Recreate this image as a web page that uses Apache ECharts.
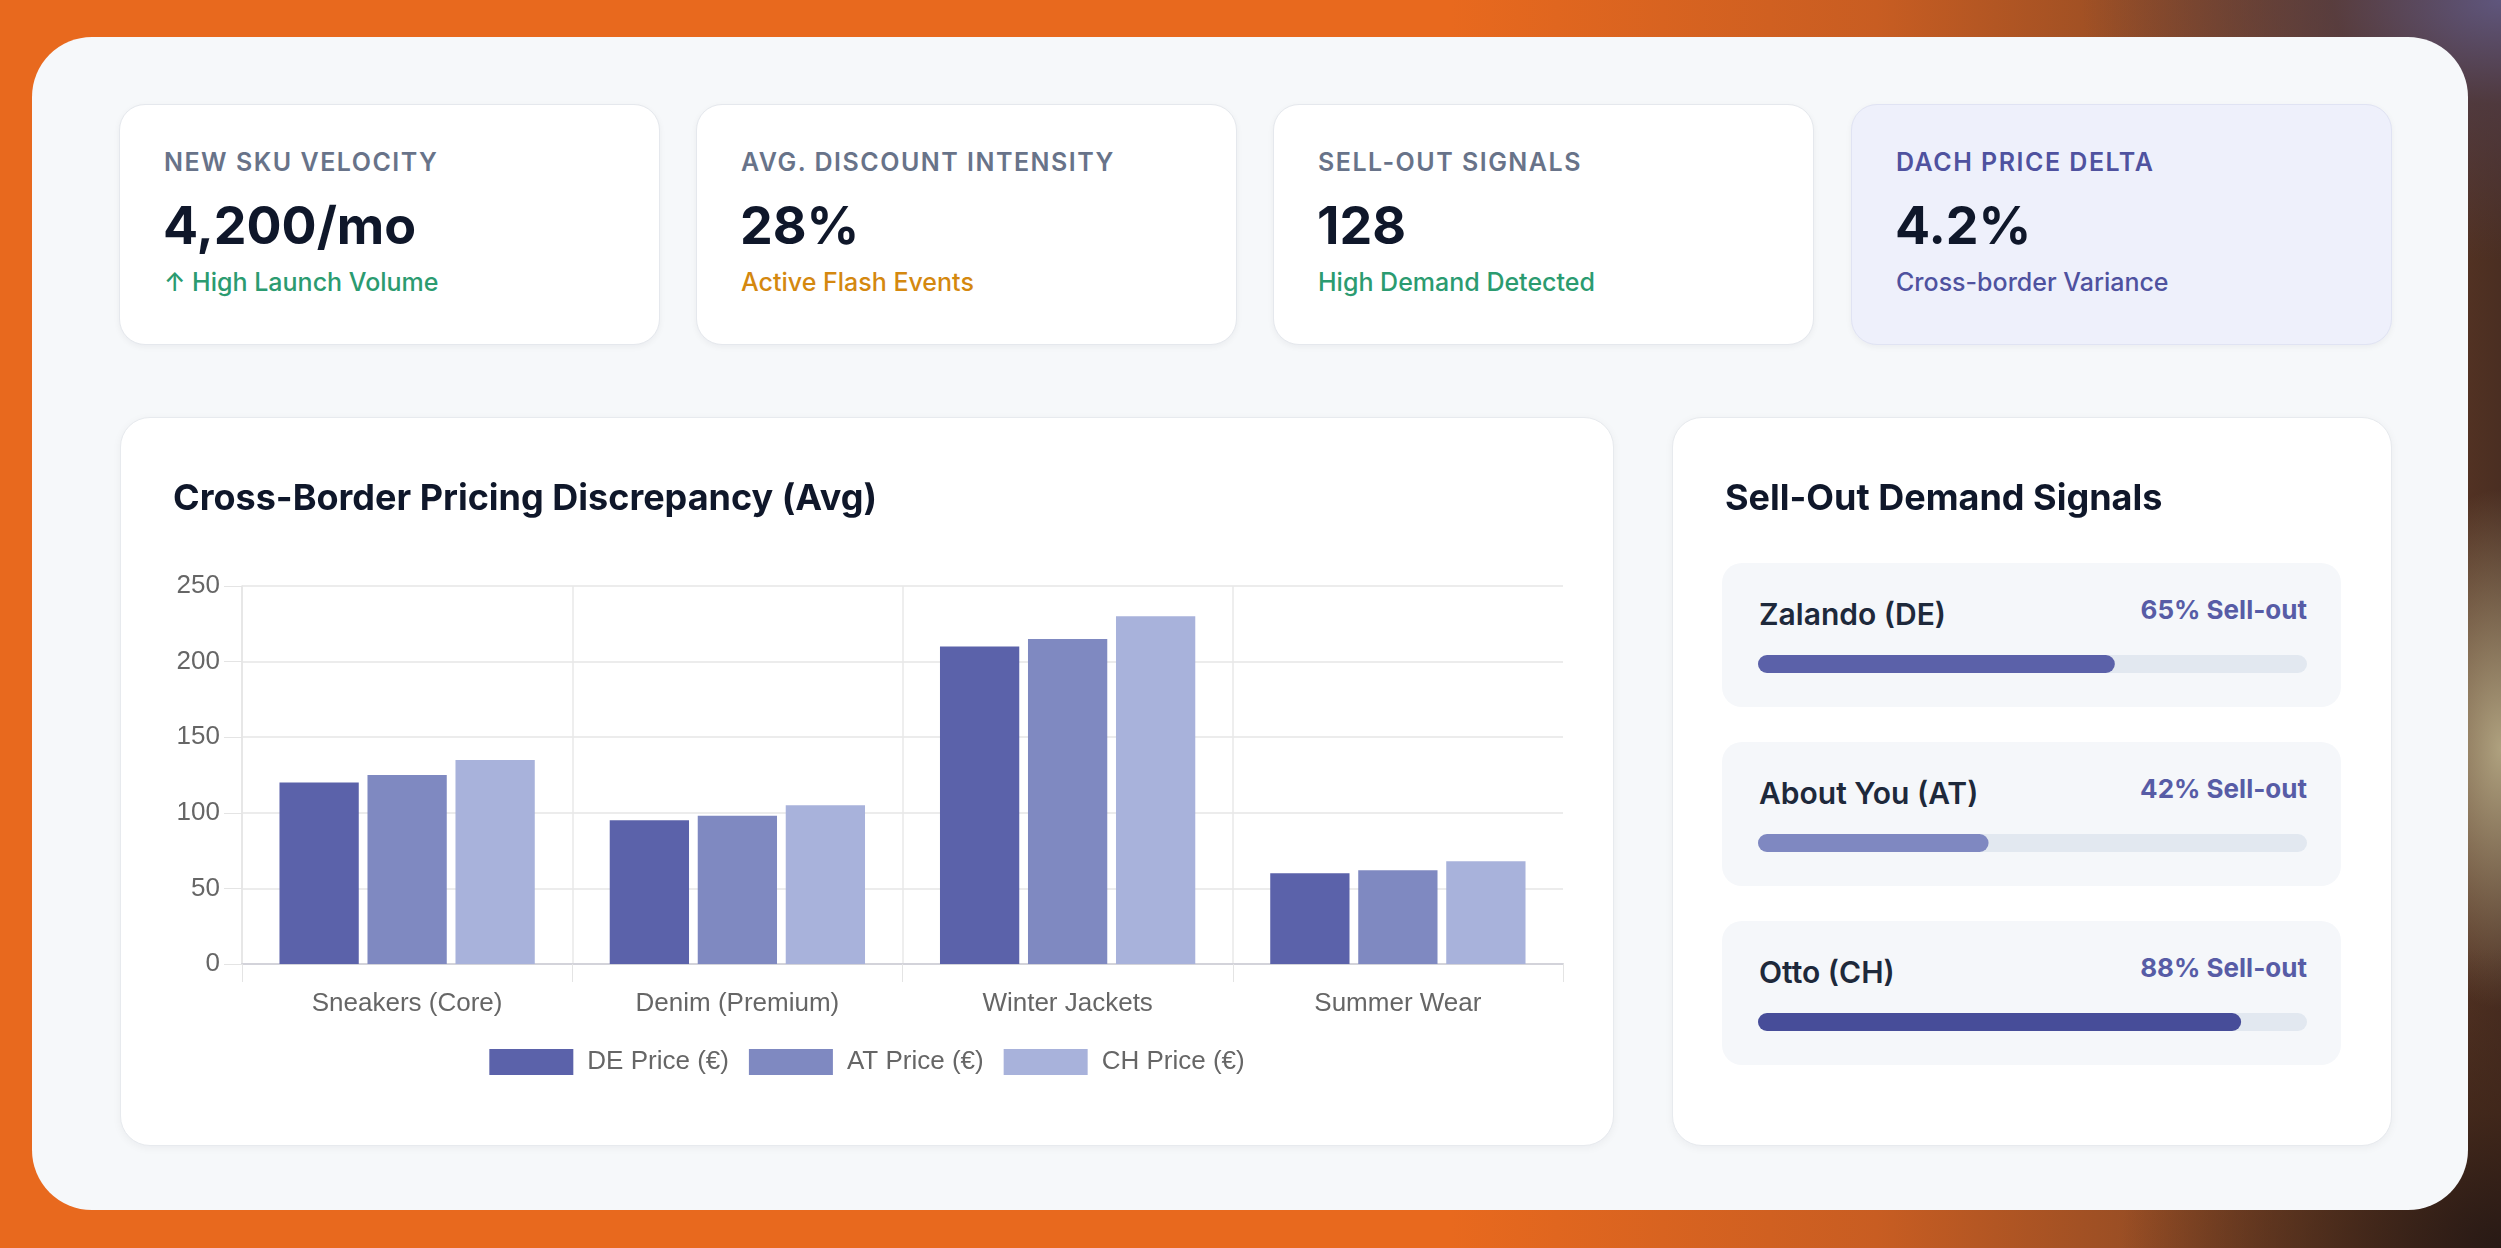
<!DOCTYPE html>
<html>
<head>
<meta charset="utf-8">
<script src="https://cdn.jsdelivr.net/npm/echarts@6/dist/echarts.min.js"></script>
<style>
  html, body { margin: 0; padding: 0; }
  body {
    width: 2501px; height: 1248px; overflow: hidden; position: relative;
    font-family: Inter, "Noto Sans", sans-serif;
    background:
      radial-gradient(ellipse 420px 260px at 100% 0%, rgba(96,88,130,0.95) 0%, rgba(80,60,70,0.75) 40%, rgba(80,60,70,0) 100%),
      radial-gradient(ellipse 380px 300px at 100% 100%, rgba(38,24,20,0.95) 0%, rgba(60,36,24,0.7) 45%, rgba(60,36,24,0) 100%),
      radial-gradient(ellipse 120px 260px at 100% 60%, rgba(200,190,150,0.8) 0%, rgba(200,190,150,0) 100%),
      linear-gradient(90deg, #e8691e 0%, #e8691e 58%, #c85d22 75%, #7a4426 92%, #4a2e22 100%);
  }
  .panel {
    position: absolute; left: 32px; top: 37px; width: 2436px; height: 1173px;
    border-radius: 60px; background: #f6f8fa;
  }
  .kpi {
    position: absolute; top: 104px; width: 541px; height: 241px; box-sizing: border-box;
    border-radius: 26px; background: #fff; border: 1px solid #e5e8ed;
    box-shadow: 0 2px 6px rgba(15,23,42,0.05);
  }
  .kpi.accent { background: #eef0fb; border-color: #e0e3f3; }
  .kpi .lbl {
    position: absolute; left: 44px; top: 45px; font-size: 25px; line-height: 1;
    font-weight: 600; letter-spacing: 0.06em; color: #687389;
  }
  .kpi .val {
    position: absolute; left: 43px; top: 95px; font-size: 52px; line-height: 1;
    font-weight: 700; color: #0f172a;
  }
  .kpi .note {
    position: absolute; left: 44px; top: 165px; font-size: 25px; line-height: 1;
    font-weight: 500;
  }
  .card {
    position: absolute; top: 417px; height: 729px; box-sizing: border-box;
    border-radius: 30px; background: #fff; border: 1px solid #e7eaee;
    box-shadow: 0 2px 8px rgba(15,23,42,0.05);
  }
  .chart { position: absolute; left: 0; top: 0; width: 100%; height: 100%; }
  .item {
    position: absolute; left: 49px; width: 619px; height: 144px;
    border-radius: 20px; background: #f5f7fa;
  }
  .item .name {
    position: absolute; left: 37px; top: 36px; font-size: 30px; line-height: 1;
    font-weight: 600; color: #1e293b;
  }
  .item .pct {
    position: absolute; right: 34px; top: 34px; font-size: 26px; line-height: 1;
    font-weight: 700; color: #575ca6;
  }
</style>
</head>
<body>
<div class="panel"></div>
<div id="kpis"></div>
<div class="card" style="left:120px;width:1494px;">
  <div id="priceChart" class="chart"></div>
</div>
<div class="card" style="left:1672px;width:720px;">
  <div id="items"></div>
  <div id="sellChart" class="chart"></div>
</div>
<script>
// KPI tiles
var kpiLabels = ['NEW SKU VELOCITY', 'AVG. DISCOUNT INTENSITY', 'SELL-OUT SIGNALS', 'DACH PRICE DELTA'];
var kpiValues = ['4,200/mo', '28%', '128', '4.2%'];
var kpiNotes = ['\u2191 High Launch Volume', 'Active Flash Events', 'High Demand Detected', 'Cross-border Variance'];

// bar chart
var categories = ['Sneakers (Core)', 'Denim (Premium)', 'Winter Jackets', 'Summer Wear'];
var seriesNames = ['DE Price (\u20ac)', 'AT Price (\u20ac)', 'CH Price (\u20ac)'];
var dePrice = [120, 95, 210, 60];
var atPrice = [125, 98, 215, 62];
var chPrice = [135, 105, 230, 68];

// sell-out list
var retailers = ['Zalando (DE)', 'About You (AT)', 'Otto (CH)'];
var sellOut = [65, 42, 88];

var kpiLeft = [119, 696, 1273, 1851];
var noteColors = ['#2b9b70', '#d4880f', '#2b9b70', '#4f529f'];
var html = '';
for (var i = 0; i < kpiLabels.length; i++) {
  var accent = i == 3;
  html += '<div class="kpi' + (accent ? ' accent' : '') + '" style="left:' + kpiLeft[i] + 'px">' +
    '<div class="lbl"' + (accent ? ' style="color:#4f529f"' : '') + '>' + kpiLabels[i] + '</div>' +
    '<div class="val">' + kpiValues[i] + '</div>' +
    '<div class="note" style="color:' + noteColors[i] + '">' + kpiNotes[i] + '</div></div>';
}
document.getElementById('kpis').innerHTML = html;

var itemTops = [145, 324, 503];
var itemsHtml = '';
for (var j = 0; j < retailers.length; j++) {
  itemsHtml += '<div class="item" style="top:' + itemTops[j] + 'px">' +
    '<div class="name">' + retailers[j] + '</div>' +
    '<div class="pct">' + sellOut[j] + '% Sell-out</div></div>';
}
document.getElementById('items').innerHTML = itemsHtml;

function priceChart() {
  var chart = echarts.init(document.getElementById('priceChart'));
  var axisFont = '"Liberation Sans", Arial, sans-serif';
  var colors = ['#5b62aa', '#7f89c1', '#a8b2db'];
  var data = [dePrice, atPrice, chPrice];
  var option = {
    animation: false,
    backgroundColor: 'transparent',
    title: {
      text: 'Cross-Border Pricing Discrepancy (Avg)',
      left: 47, top: 58,
      textStyle: { fontFamily: 'Inter', fontSize: 36, fontWeight: 700, color: '#0f172a' }
    },
    legend: {
      data: seriesNames,
      left: 'center', top: 626,
      icon: 'rect', itemWidth: 84, itemHeight: 26, itemGap: 20,
      textStyle: { fontFamily: axisFont, fontSize: 26, color: '#666', padding: [0, 0, 0, 9] }
    },
    grid: { left: 121, right: 50, top: 168, bottom: 181, containLabel: false },
    xAxis: {
      type: 'category',
      data: categories,
      axisLine: { show: true, lineStyle: { color: '#d3d3da', width: 2 } },
      axisTick: { show: true, length: 18, lineStyle: { color: '#e4e4e4' } },
      splitLine: { show: true, showMaxLine: false, lineStyle: { color: '#e8e8e8', width: 1.5 } },
      axisLabel: { margin: 27, fontFamily: axisFont, fontSize: 26, color: '#666' }
    },
    yAxis: {
      type: 'value',
      min: 0, max: 250, interval: 50,
      axisLine: { show: true, lineStyle: { color: '#e4e4e4', width: 1.5 } },
      axisTick: { show: true, length: 18, lineStyle: { color: '#e4e4e4' } },
      splitLine: { show: true, lineStyle: { color: '#e6e6e6', width: 1.5 } },
      axisLabel: { margin: 22, fontFamily: axisFont, fontSize: 26, color: '#666' }
    },
    series: seriesNames.map(function (name, k) {
      return {
        name: name,
        type: 'bar',
        data: data[k],
        barCategoryGap: '22.7%',
        barGap: '11%',
        itemStyle: { color: colors[k] }
      };
    })
  };
  chart.setOption(option);
}

function sellChart() {
  var chart = echarts.init(document.getElementById('sellChart'));
  var fills = ['#5b61a9', '#7f88c1', '#474d99'];
  var gridTops = [237, 416, 595];
  var grids = [], xAxes = [], yAxes = [], series = [];
  for (var i = 0; i < retailers.length; i++) {
    grids.push({ left: 85, width: 549, top: gridTops[i], height: 18 });
    xAxes.push({ type: 'value', min: 0, max: 100, gridIndex: i, show: false });
    yAxes.push({ type: 'category', data: [retailers[i]], gridIndex: i, show: false });
    series.push({
      type: 'bar',
      xAxisIndex: i, yAxisIndex: i,
      data: [sellOut[i]],
      barWidth: 18,
      showBackground: true,
      backgroundStyle: { color: '#e2e8f0', borderRadius: 9 },
      itemStyle: { color: fills[i], borderRadius: 9 }
    });
  }
  chart.setOption({
    animation: false,
    backgroundColor: 'transparent',
    title: {
      text: 'Sell-Out Demand Signals',
      left: 47, top: 58,
      textStyle: { fontFamily: 'Inter', fontSize: 36, fontWeight: 700, color: '#0f172a' }
    },
    grid: grids,
    xAxis: xAxes,
    yAxis: yAxes,
    series: series
  });
}

priceChart();
sellChart();
</script>
</body>
</html>
